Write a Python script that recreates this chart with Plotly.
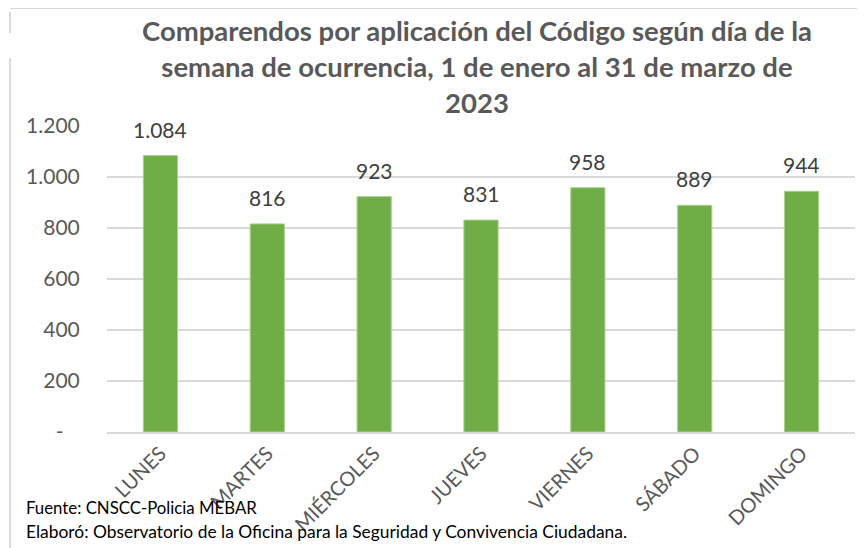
import plotly.graph_objects as go

categorias = ["LUNES", "MARTES", "MIÉRCOLES", "JUEVES", "VIERNES", "SÁBADO", "DOMINGO"]
valores = [1084, 816, 923, 831, 958, 889, 944]
y_tick_vals = [0, 200, 400, 600, 800, 1000, 1200]
y_tick_text = ["-\u00a0\u00a0\u00a0", "200", "400", "600", "800", "1.000", "1.200"]

titulo = ("Comparendos por aplicación del Código según día de la<br>"
          "semana de ocurrencia, 1 de enero al 31 de marzo de<br>2023")
fuente = "Fuente: CNSCC-Policia MEBAR"
elaboro = "Elaboró: Observatorio de la Oficina para la Seguridad y Convivencia Ciudadana."

def fmt(v):
    return f"{v:,}".replace(",", ".")

# the page body has an 8px margin, so work in reference pixels and shift
OFF = 8
W, H = 865 - OFF, 548 - OFF
PL, PR, PT, PB = 107, 855, 126, 432  # plot area in reference pixels
ML, MT = PL - OFF, PT - OFF
MR = W - (PR - OFF)
MB = H - (PB - OFF)
PW, PH = PR - PL, PB - PT

def px_x(x):
    return (x - PL) / PW

def px_y(y):
    return (PB - y) / PH

FONT = "Lato, Carlito, Calibri, sans-serif"

fig = go.Figure()
fig.add_trace(go.Bar(
    x=categorias, y=valores,
    marker=dict(color="#70AD47", line=dict(color="#A9D18E", width=1)),
    width=0.32,
    hoverinfo="x+y",
))

for c, v in zip(categorias, valores):
    fig.add_annotation(x=c, y=v, text=fmt(v), showarrow=False, yanchor="bottom",
                       yshift=12, font=dict(size=21, color="#404040", family=FONT))

fig.add_annotation(xref="paper", yref="paper", x=px_x(477), y=px_y(12), xanchor="center",
                   yanchor="top", text=titulo, showarrow=False, align="center",
                   font=dict(size=27.5, color="#595959", family=FONT, weight="bold"))

fig.add_annotation(xref="paper", yref="paper", x=px_x(24), y=px_y(507), xanchor="left",
                   yanchor="middle", text=fuente, showarrow=False,
                   font=dict(size=16.8, color="#000000", family=FONT))
fig.add_annotation(xref="paper", yref="paper", x=px_x(24), y=px_y(531), xanchor="left",
                   yanchor="middle", text=elaboro, showarrow=False,
                   font=dict(size=17.4, color="#000000", family=FONT))

# chart border fragments
line_style = dict(color="#D9D9D9", width=2)
fig.add_shape(type="line", xref="paper", yref="paper", x0=px_x(10), x1=px_x(870),
              y0=px_y(8), y1=px_y(8), line=line_style)
fig.add_shape(type="line", xref="paper", yref="paper", x0=px_x(10), x1=px_x(10),
              y0=px_y(12), y1=px_y(33), line=line_style)
fig.add_shape(type="line", xref="paper", yref="paper", x0=px_x(10), x1=px_x(10),
              y0=px_y(58), y1=px_y(560), line=line_style)

fig.update_layout(
    width=W, height=H,
    margin=dict(l=ML, r=MR, t=MT, b=MB, autoexpand=False),
    paper_bgcolor="white", plot_bgcolor="white",
    font=dict(family=FONT, color="#595959"),
    showlegend=False,
    bargap=0.68,
    xaxis=dict(tickangle=-45, tickfont=dict(size=20, color="#595959"),
               showline=True, linecolor="#D9D9D9", linewidth=2, ticks="",
               showgrid=False, automargin=False),
    yaxis=dict(range=[0, 1200], tickvals=y_tick_vals, ticktext=y_tick_text,
               tickfont=dict(size=21, color="#595959"),
               showgrid=True, gridcolor="#D9D9D9", gridwidth=1.5,
               zeroline=False, ticks="outside", ticklen=22, tickcolor="rgba(0,0,0,0)",
               showline=False, automargin=False),
)

fig.write_html("out.html")
